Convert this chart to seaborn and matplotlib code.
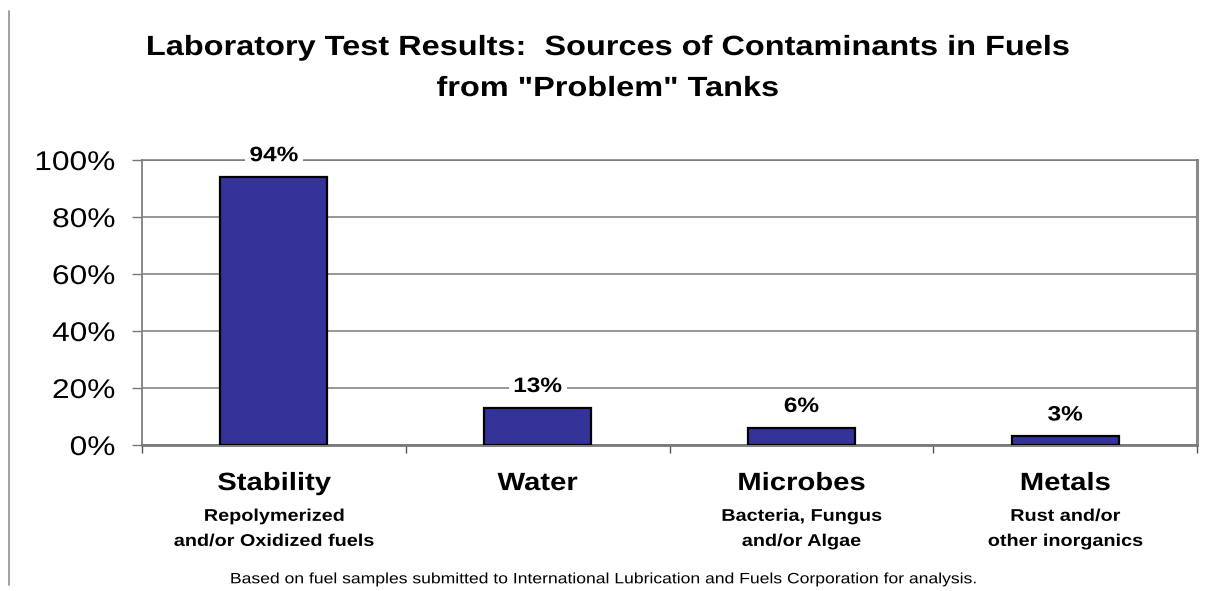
import matplotlib
matplotlib.use("Agg")
import matplotlib.pyplot as plt
from matplotlib.lines import Line2D
from matplotlib.ticker import PercentFormatter, FixedLocator
from matplotlib.patheffects import AbstractPathEffect
from matplotlib.transforms import Affine2D
import seaborn as sns
import pandas as pd

# Chart data
categories = ["Stability", "Water", "Microbes", "Metals"]
descriptions = [
    "Repolymerized\nand/or Oxidized fuels",
    "",
    "Bacteria, Fungus\nand/or Algae",
    "Rust and/or\nother inorganics",
]
percent_values = [94, 13, 6, 3]
y_ticks = [0, 20, 40, 60, 80, 100]

title_lines = [
    "Laboratory Test Results:  Sources of Contaminants in Fuels",
    'from "Problem" Tanks',
]
footnote = ("Based on fuel samples submitted to International Lubrication "
            "and Fuels Corporation for analysis.")


class StretchX(AbstractPathEffect):
    """Widen glyph outlines horizontally about an anchor (0=left, 0.5=center, 1=right)."""

    def __init__(self, factor=1.17, anchor=0.5):
        super().__init__()
        self.factor = factor
        self.anchor = anchor

    def draw_path(self, renderer, gc, tpath, affine, rgbFace=None):
        xs = tpath.vertices[:, 0]
        if len(xs):
            x0, x1 = xs.min(), xs.max()
            ax_ = x0 + self.anchor * (x1 - x0)
        else:
            ax_ = 0.0
        t = Affine2D().translate(-ax_, 0).scale(self.factor, 1.0).translate(ax_, 0) + affine
        renderer.draw_path(gc, tpath, t, rgbFace)


WIDE = [StretchX(1.17, 0.5)]
WIDE_RIGHT = [StretchX(1.17, 1.0)]

sns.set_theme(style="white")
plt.rcParams["font.family"] = ["Liberation Sans", "DejaVu Sans"]

df = pd.DataFrame({"category": categories, "share": [v / 100 for v in percent_values]})

fig = plt.figure(figsize=(12.15, 5.91), dpi=100)
ax = fig.add_axes([0.1169, 0.2470, 0.8683, 0.4822])

sns.barplot(data=df, x="category", y="share", color="#333399", width=0.406,
            edgecolor="black", linewidth=1.6, saturation=1, ax=ax, zorder=3)

ax.set_xlim(-0.5, len(categories) - 0.5)
ax.set_ylim(0, 1.0)
ax.set_xlabel("")
ax.set_ylabel("")

# y axis: percent ticks with outward tick marks
ax.yaxis.set_major_locator(FixedLocator([t / 100 for t in y_ticks]))
ax.yaxis.set_major_formatter(PercentFormatter(1.0, decimals=0))
ax.tick_params(axis="y", which="major", left=True, length=7.2, width=1.0,
               color="#777777", pad=12, labelsize=19.5, labelcolor="black")
for lbl in ax.get_yticklabels():
    lbl.set_path_effects(WIDE_RIGHT)

# x axis: tick marks on category boundaries, labels drawn separately
ax.xaxis.set_major_locator(FixedLocator([i - 0.5 for i in range(len(categories) + 1)]))
ax.set_xticklabels([])
ax.tick_params(axis="x", which="major", bottom=True, length=5.8, width=1.0,
               color="#555555", direction="out")

# horizontal gridlines
ax.grid(axis="y", color="#7a7a7a", linewidth=1.1, zorder=0)
ax.grid(axis="x", visible=False)

for side in ["left", "right", "bottom", "top"]:
    ax.spines[side].set_visible(True)
ax.spines["left"].set_color("#808080")
ax.spines["left"].set_linewidth(1.3)
ax.spines["right"].set_color("#8a8a8a")
ax.spines["right"].set_linewidth(2.2)
ax.spines["bottom"].set_color("#7a7a7a")
ax.spines["bottom"].set_linewidth(2.0)
ax.spines["top"].set_color("#7a7a7a")
ax.spines["top"].set_linewidth(1.1)

# value labels above bars
for i, v in enumerate(percent_values):
    ax.annotate(f"{v}%", (i, v / 100), xytext=(0, 11.5), textcoords="offset points",
                ha="center", va="baseline", fontsize=15, fontweight="bold",
                color="black", zorder=5, annotation_clip=False,
                path_effects=WIDE,
                bbox=dict(boxstyle="square,pad=0.38", facecolor="white",
                          edgecolor="none"))

# category names and descriptions below the axis
trans = ax.get_xaxis_transform()
for i, (name, desc) in enumerate(zip(categories, descriptions)):
    ax.text(i, -0.158, name, transform=trans, ha="center", va="baseline",
            fontsize=18, fontweight="bold", color="black", path_effects=WIDE)
    for j, line in enumerate(desc.split("\n") if desc else []):
        ax.text(i, -0.266 - 0.088 * j, line, transform=trans, ha="center",
                va="baseline", fontsize=12.2, fontweight="bold", color="black",
                path_effects=WIDE)

# title and footnote
fig.text(0.5, 1 - 55 / 591, title_lines[0], ha="center", va="baseline",
         fontsize=20, fontweight="bold", color="black", path_effects=WIDE)
fig.text(0.5, 1 - 96 / 591, title_lines[1], ha="center", va="baseline",
         fontsize=20, fontweight="bold", color="black", path_effects=WIDE)
fig.text(0.497, 1 - 583.3 / 591, footnote, ha="center", va="baseline",
         fontsize=10.8, color="black", path_effects=WIDE)

# slide border line at the left edge
fig.add_artist(Line2D([9 / 1215, 9 / 1215], [1 - 11 / 591, 1 - 585 / 591],
                      transform=fig.transFigure, color="#9a9a9a", linewidth=1.3))

fig.savefig("out.png", dpi=100, facecolor="white")
